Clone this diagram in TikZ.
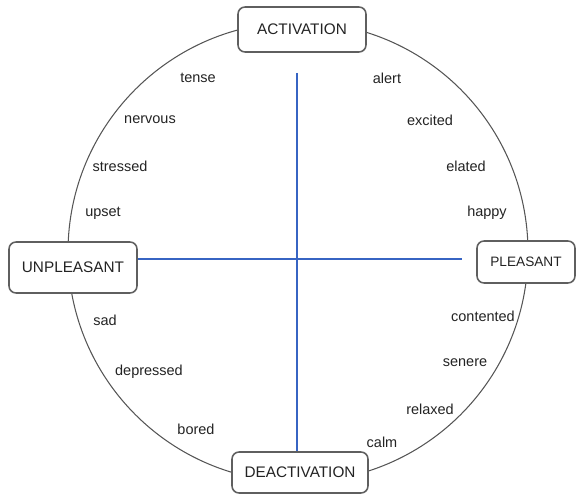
\documentclass[tikz,border=0pt]{standalone}
\usepackage{fontspec}
\setmainfont{Liberation Sans}
\definecolor{axisblue}{RGB}{55,100,195}
\definecolor{boxgray}{RGB}{95,95,95}
\definecolor{textgray}{RGB}{35,35,35}
\begin{document}
\begin{tikzpicture}[
        scale=1,
        font=\fontsize{10.3}{12}\selectfont,
        text=textgray
    ]
    \tikzset{
        polebox/.style = {rectangle, rounded corners=5pt, draw=boxgray, line width=1.1pt, fill=white, align=center, inner sep=0pt, font=\fontsize{10.9}{12}\selectfont},
        mood/.style = {inner sep=0pt},
        rim/.style = {draw=boxgray!90!black, line width=0.75pt},
        axis/.style = {-, draw=axisblue, line width=1.45pt},
    }
    \useasboundingbox (0,0) rectangle (14.4,12.375);
    \coordinate (o) at (7.45,6.075);
    \draw[rim] (o) circle (5.75);
    %
    \node[polebox, minimum width=3.2cm, minimum height=1.125cm] at (7.55,11.6375) (act) {ACTIVATION};
    \node[polebox, minimum width=3.2cm, minimum height=1.275cm] at (1.825,5.6875) (unp) {UNPLEASANT};
    \node[polebox, minimum width=2.45cm, minimum height=1.05cm, font=\fontsize{9.7}{12}\selectfont] at (13.15,5.825) (ple) {PLEASANT};
    \node[polebox, minimum width=3.4cm, minimum height=1.025cm] at (7.5,0.5625) (dea) {DEACTIVATION};
    %
    \coordinate (vtop) at (7.425,10.55);
    \coordinate (hend) at (11.55,5.9);
    \draw[axis] (vtop) -- (vtop |- dea.north);
    \draw[axis] (unp.east |- hend) -- (hend);
    %
    \node[mood] at (4.95,10.425) (tense) {tense};
    \node[mood] at (3.75,9.375) (nervous) {nervous};
    \node[mood] at (3.0,8.225) (stressed) {stressed};
    \node[mood] at (2.575,7.05) (upset) {upset};
    %
    \node[mood] at (9.675,10.425) (alert) {alert};
    \node[mood] at (10.75,9.375) (excited) {excited};
    \node[mood] at (11.65,8.225) (elated) {elated};
    \node[mood] at (12.175,7.05) (happy) {happy};
    %
    \node[mood] at (2.625,4.375) (sad) {sad};
    \node[mood] at (3.725,3.075) (depressed) {depressed};
    \node[mood] at (4.9,1.65) (bored) {bored};
    %
    \node[mood] at (12.075,4.475) (contented) {contented};
    \node[mood] at (11.625,3.3) (senere) {senere};
    \node[mood] at (10.75,2.15) (relaxed) {relaxed};
    \node[mood] at (9.55,1.325) (calm) {calm};
\end{tikzpicture}
\end{document}
